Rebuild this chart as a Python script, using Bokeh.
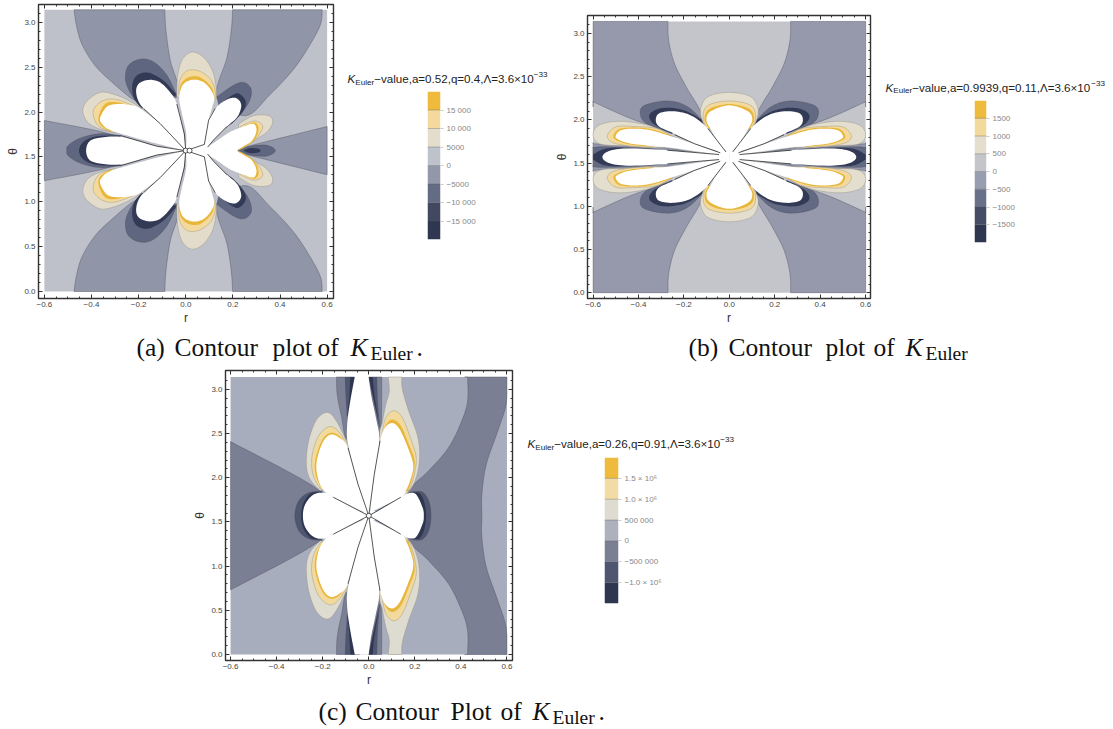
import numpy as np
from bokeh.core.properties import value
from bokeh.embed import file_html
from bokeh.layouts import column, row
from bokeh.models import CustomLabelingPolicy, FixedTicker, LinearAxis, Range1d, Spacer
from bokeh.plotting import figure
from bokeh.resources import INLINE

PI = 3.1416
MID = 1.5708

# ---------- tick values ----------
r_ticks = [-0.6, -0.4, -0.2, 0.0, 0.2, 0.4, 0.6]
r_labels = ["\u22120.6", "\u22120.4", "\u22120.2", "0.0", "0.2", "0.4", "0.6"]
theta_ticks = [0.0, 0.5, 1.0, 1.5, 2.0, 2.5, 3.0]
theta_labels = ["0.0", "0.5", "1.0", "1.5", "2.0", "2.5", "3.0"]

# ---------- colour legends ----------
a_levels = [-20000, -15000, -10000, -5000, 0, 5000, 10000, 15000, 20000]
a_tick_vals = [-15000, -10000, -5000, 0, 5000, 10000, 15000]
a_tick_text = ["\u221215 000", "\u221210 000", "\u22125000", "0", "5000", "10 000", "15 000"]
a_colors = ["#2F3650", "#414860", "#646B85", "#9298A9", "#BEC2CA", "#E4DDCC", "#F3D99C", "#EFBB3C"]

b_levels = [-2000, -1500, -1000, -500, 0, 500, 1000, 1500, 2000]
b_tick_vals = [-1500, -1000, -500, 0, 500, 1000, 1500]
b_tick_text = ["\u22121500", "\u22121000", "\u2212500", "0", "500", "1000", "1500"]
b_colors = ["#2F3650", "#454C66", "#68708A", "#999DB0", "#C3C5CB", "#E4DECE", "#F3D99C", "#EFBB3C"]

c_levels = [-1500000, -1000000, -500000, 0, 500000, 1000000, 1500000, 2000000]
c_tick_vals = [-1000000, -500000, 0, 500000, 1000000, 1500000]
c_tick_text = ["\u22121.0 \u00d7 10\u2076", "\u2212500 000", "0", "500 000", "1.0 \u00d7 10\u2076", "1.5 \u00d7 10\u2076"]
c_colors = ["#2F3650", "#4F5670", "#7A7F94", "#ADB0BD", "#DEDBD0", "#F2DBA4", "#EFBB3C"]

# ---------- panel (a): contour outlines read as (r, theta), upper half ----------
a_mid_topleft = [(-0.089, PI), (-0.084, 2.91), (-0.066, 2.58), (-0.035, 2.22), (-0.151, 2.13), (-0.215, 2.13),
                 (-0.307, 2.32), (-0.385, 2.52), (-0.441, 2.76), (-0.465, 2.98), (-0.474, PI)]
a_mid_topright = [(0.199, PI), (0.193, 2.91), (0.175, 2.61), (0.132, 2.17), (0.253, 1.96), (0.359, 2.20),
                  (0.458, 2.48), (0.529, 2.76), (0.572, 2.98), (0.579, PI)]
a_wedge_left = [(-0.6, 1.907), (-0.305, 1.74), (-0.305, MID)]
a_wedge_right = [(0.6, 1.84), (0.22, 1.59), (0.22, MID)]

a_tan_center = [(-0.038, 2.17), (-0.035, 2.39), (-0.016, 2.58), (0.026, 2.67), (0.076, 2.61), (0.115, 2.45), (0.130, 2.24), (0.125, 2.13)]
a_yel_center = [(-0.030, 2.19), (-0.026, 2.35), (0.005, 2.46), (0.055, 2.46), (0.104, 2.37), (0.125, 2.24), (0.122, 2.15)]
a_gold_center = [(-0.028, 2.17), (-0.023, 2.30), (0.005, 2.38), (0.047, 2.40), (0.083, 2.35), (0.113, 2.26), (0.122, 2.15)]
a_white_center = [(0, 1.57), (0.002, 1.76), (-0.016, 1.98), (-0.028, 2.15), (-0.016, 2.29), (0.012, 2.35), (0.047, 2.36),
                  (0.083, 2.32), (0.111, 2.23), (0.121, 2.15), (0.113, 2.06), (0.097, 1.91), (0.079, 1.64)]

a_slate_ul = [(-0.035, 2.17), (-0.080, 2.41), (-0.137, 2.56), (-0.193, 2.59), (-0.243, 2.52), (-0.256, 2.37), (-0.236, 2.22), (-0.193, 2.06)]
a_dark_ul = [(-0.038, 2.19), (-0.094, 2.35), (-0.158, 2.44), (-0.207, 2.41), (-0.227, 2.30), (-0.219, 2.15), (-0.186, 2.04)]
a_white_ul = [(0, 1.57), (-0.009, 1.76), (-0.038, 2.09), (-0.066, 2.22), (-0.108, 2.33), (-0.151, 2.36), (-0.193, 2.33),
              (-0.210, 2.26), (-0.205, 2.15), (-0.179, 2.04), (-0.108, 1.87)]

a_tan_left = [(-0.186, 2.04), (-0.243, 2.13), (-0.307, 2.20), (-0.363, 2.22), (-0.417, 2.13), (-0.437, 2.02), (-0.417, 1.89), (-0.363, 1.81), (-0.300, 1.78)]
a_yel_left = [(-0.193, 2.04), (-0.293, 2.14), (-0.349, 2.13), (-0.389, 2.04), (-0.389, 1.93), (-0.363, 1.83), (-0.300, 1.77)]
a_gold_left = [(-0.193, 2.04), (-0.293, 2.11), (-0.342, 2.09), (-0.369, 1.96), (-0.363, 1.86), (-0.321, 1.78)]
a_white_left = [(0, 1.57), (-0.094, 1.63), (-0.222, 1.72), (-0.321, 1.80), (-0.356, 1.87), (-0.363, 1.94), (-0.335, 2.06),
                (-0.293, 2.09), (-0.236, 2.08), (-0.193, 2.04), (-0.108, 1.87)]

a_slate_h = [(-0.278, 1.74), (-0.363, 1.76), (-0.448, 1.71), (-0.498, 1.63), (-0.505, MID)]
a_dark_h = [(-0.278, 1.74), (-0.378, 1.73), (-0.434, 1.67), (-0.453, MID)]
a_white_h = [(0, 1.58), (-0.123, 1.62), (-0.264, 1.72), (-0.349, 1.72), (-0.406, 1.68), (-0.423, MID)]

a_slate_ur = [(0.132, 2.17), (0.203, 2.30), (0.246, 2.33), (0.277, 2.26), (0.271, 2.13), (0.232, 1.98), (0.161, 1.83)]
a_dark_ur = [(0.125, 2.04), (0.175, 2.15), (0.220, 2.21), (0.253, 2.13), (0.246, 2.02), (0.203, 1.89), (0.161, 1.81)]
a_white_ur = [(0.079, 1.64), (0.097, 1.91), (0.132, 2.06), (0.175, 2.14), (0.210, 2.16), (0.232, 2.11), (0.234, 2.04),
              (0.217, 1.94), (0.175, 1.84), (0.118, 1.69), (0.093, 1.61)]

a_tan_right = [(0.225, 1.87), (0.288, 1.96), (0.352, 1.96), (0.369, 1.89), (0.345, 1.78), (0.288, 1.68), (0.225, MID)]
a_yel_right = [(0.232, 1.84), (0.288, 1.90), (0.324, 1.86), (0.319, 1.78), (0.288, 1.68), (0.229, MID)]
a_gold_right = [(0.239, 1.83), (0.291, 1.885), (0.309, 1.81), (0.288, 1.68), (0.224, MID)]
a_white_right = [(0.097, MID), (0.093, 1.61), (0.132, 1.68), (0.189, 1.78), (0.246, 1.84), (0.288, 1.87), (0.300, 1.79),
                 (0.281, 1.68), (0.246, 1.62), (0.220, MID)]
a_white_core = [(0, MID), (0.0, 1.585), (0.079, 1.64), (0.093, 1.61), (0.097, MID)]
a_slate_spot = [(0.224, MID), (0.274, 1.62), (0.345, 1.63), (0.380, MID)]
a_dark_spot = [(0.243, MID), (0.274, 1.60), (0.31, 1.59), (0.317, MID)]

a_spokes = [[(0, 1.57), (-0.006, 1.76), (-0.038, 2.09)], [(0, 1.57), (-0.108, 1.87), (-0.179, 2.04)],
            [(0, 1.57), (-0.123, 1.62), (-0.278, 1.74)], [(0, 1.57), (0.079, 1.64), (0.097, 1.91), (0.125, 2.04)],
            [(0.093, 1.61), (0.118, 1.69), (0.175, 1.84)]]
a_center_r = [0.0, 0.016]

# ---------- panel (b): right upper quadrant, mirrored in r and theta ----------
b_mid_corner = [(0.270, PI), (0.267, 2.92), (0.241, 2.65), (0.189, 2.38), (0.123, 2.07), (0.13, 1.85), (0.373, 1.96), (0.6, 2.21), (0.6, 2.21), (0.6, PI)]
b_mid_h = [(0.1, 1.60), (0.30, 1.68), (0.6, 1.725), (0.6, 1.725), (0.6, MID)]
b_slate_h = [(0.2, 1.60), (0.35, 1.67), (0.55, 1.69), (0.6, 1.68), (0.6, 1.68), (0.6, MID)]
b_dark_h = [(0.3, 1.62), (0.46, 1.675), (0.55, 1.665), (0.6, 1.60), (0.6, 1.60), (0.6, MID)]
b_white_h = [(0.02, MID), (0.045, 1.60), (0.273, 1.65), (0.449, 1.67), (0.53, 1.64), (0.559, MID)]

b_tan_d = [(0.25, 1.81), (0.346, 1.93), (0.478, 1.985), (0.574, 1.94), (0.60, 1.82), (0.566, 1.72), (0.449, 1.70), (0.346, 1.68), (0.25, 1.69)]
b_yel_d = [(0.25, 1.80), (0.317, 1.90), (0.42, 1.925), (0.50, 1.92), (0.537, 1.82), (0.515, 1.74), (0.442, 1.70), (0.346, 1.685)]
b_gold_d = [(0.25, 1.815), (0.346, 1.895), (0.42, 1.912), (0.485, 1.895), (0.51, 1.82), (0.50, 1.77), (0.445, 1.72), (0.346, 1.69)]
b_white_d = [(0.053, 1.63), (0.244, 1.80), (0.346, 1.88), (0.420, 1.90), (0.478, 1.88), (0.500, 1.82), (0.493, 1.78),
             (0.442, 1.73), (0.346, 1.70), (0.258, 1.68), (0.045, 1.60)]

b_slate_u = [(0.10, 1.94), (0.182, 2.15), (0.27, 2.22), (0.373, 2.17), (0.392, 2.07), (0.365, 1.96), (0.27, 1.86)]
b_dark_u = [(0.108, 1.98), (0.197, 2.11), (0.292, 2.14), (0.35, 2.07), (0.336, 1.96), (0.255, 1.84)]
b_white_u = [(0.015, 1.63), (0.094, 1.90), (0.167, 2.05), (0.241, 2.10), (0.307, 2.08), (0.324, 2.00), (0.307, 1.92),
             (0.241, 1.84), (0.153, 1.725), (0.05, 1.64)]

b_tan_top = [(-0.10, 1.90), (-0.12, 2.0), (-0.126, 2.13), (-0.094, 2.27), (0, 2.32), (0.094, 2.27), (0.126, 2.13), (0.12, 2.0), (0.10, 1.90)]
b_yel_top = [(-0.10, 1.90), (-0.116, 2.035), (-0.094, 2.17), (0, 2.22), (0.094, 2.17), (0.116, 2.035), (0.10, 1.90)]
b_gold_top = [(-0.09, 1.90), (-0.109, 2.015), (-0.087, 2.13), (0, 2.185), (0.087, 2.13), (0.109, 2.015), (0.09, 1.90)]
b_white_top = [(0, 1.60), (-0.043, 1.725), (-0.079, 1.88), (-0.101, 2.00), (-0.082, 2.10), (0, 2.17), (0.082, 2.10),
               (0.101, 2.00), (0.079, 1.88), (0.043, 1.725)]
b_white_core = [(0, 1.64), (0.05, 1.64), (0.05, MID)]
b_spokes = [[(0.015, 1.63), (0.094, 1.90)], [(0.04, 1.62), (0.153, 1.725), (0.241, 1.83)], [(0.045, 1.60), (0.273, 1.65)]]

# ---------- panel (c): upper half ----------
c_wedge_left = [(-0.6, 2.41), (-0.211, 1.85), (-0.21, MID)]
c_right_band = [(0.17, MID), (0.174, 1.85), (0.26, 2.08), (0.346, 2.34), (0.403, 2.64), (0.429, 2.87), (0.429, PI), (0.429, PI),
                (0.6, PI), (0.6, PI), (0.596, 2.83), (0.56, 2.53), (0.51, 2.15), (0.491, 1.81), (0.491, MID)]
c_strip_l1 = [(-0.14, PI), (-0.137, 2.94), (-0.119, 2.70), (-0.094, 2.45), (-0.061, PI)]
c_strip_l2 = [(-0.104, PI), (-0.10, 2.9), (-0.095, 2.7), (-0.09, 2.5), (-0.04, PI)]
c_strip_l3 = [(-0.08, PI), (-0.085, 2.9), (-0.09, 2.7), (-0.04, PI)]
c_strip_r1 = [(0.056, PI), (0.056, 2.9), (0.053, 2.57), (0.04, 2.5), (0, PI)]
c_strip_r2 = [(0.036, PI), (0.039, 2.87), (0.046, 2.57), (0, PI)]
c_strip_r3 = [(0.017, PI), (0.024, 2.94), (0.039, 2.68), (0, PI)]
c_white_center = [(-0.061, PI), (-0.083, 2.83), (-0.094, 2.60), (-0.09, 2.38), (-0.047, 1.93), (0, 1.59), (0.024, 2.04),
                  (0.046, 2.42), (0.031, 2.68), (0.01, 2.94), (-0.001, PI)]

c_tan_r = [(0.084, PI), (0.089, 2.98), (0.074, 2.83), (0.06, 2.64), (0.049, 2.42), (0.10, 1.75), (0.174, 1.85), (0.21, 2.04),
           (0.221, 2.27), (0.21, 2.49), (0.174, 2.75), (0.146, 3.0), (0.143, PI)]
c_yel_r = [(0.05, 2.40), (0.057, 2.49), (0.074, 2.68), (0.11, 2.76), (0.146, 2.68), (0.181, 2.45), (0.206, 2.23), (0.196, 2.02), (0.174, 1.85)]
c_gold_r = [(0.05, 2.40), (0.053, 2.45), (0.074, 2.60), (0.103, 2.66), (0.139, 2.59), (0.174, 2.38), (0.199, 2.19), (0.189, 2.0), (0.167, 1.83)]
c_white_r = [(0.005, 1.60), (0.024, 2.04), (0.049, 2.42), (0.071, 2.57), (0.103, 2.62), (0.134, 2.55), (0.167, 2.36),
             (0.193, 2.15), (0.181, 1.98), (0.16, 1.85), (0.139, 1.78), (0.024, 1.63)]

c_tan_l = [(-0.09, 2.38), (-0.14, 2.64), (-0.179, 2.74), (-0.226, 2.66), (-0.261, 2.42), (-0.271, 2.15), (-0.254, 1.98), (-0.209, 1.85)]
c_yel_l = [(-0.09, 2.36), (-0.126, 2.51), (-0.169, 2.58), (-0.219, 2.47), (-0.247, 2.23), (-0.24, 2.02), (-0.204, 1.85)]
c_gold_l = [(-0.09, 2.34), (-0.126, 2.47), (-0.166, 2.51), (-0.204, 2.42), (-0.233, 2.19), (-0.229, 2.02), (-0.204, 1.87)]
c_white_l = [(0, 1.59), (-0.047, 1.93), (-0.09, 2.34), (-0.126, 2.45), (-0.166, 2.49), (-0.2, 2.40), (-0.226, 2.19),
             (-0.223, 2.02), (-0.2, 1.87), (-0.154, 1.78), (-0.019, 1.61)]

c_slate_hl = [(-0.204, 1.85), (-0.261, 1.83), (-0.304, 1.74), (-0.321, MID)]
c_dark_hl = [(-0.197, 1.83), (-0.247, 1.83), (-0.283, 1.72), (-0.294, MID)]
c_white_hl = [(-0.019, 1.60), (-0.154, 1.78), (-0.19, 1.83), (-0.24, 1.81), (-0.276, 1.70), (-0.286, MID)]
c_slate_hr = [(0.181, 1.84), (0.231, 1.84), (0.26, 1.74), (0.27, MID)]
c_dark_hr = [(0.174, 1.825), (0.217, 1.83), (0.239, 1.74), (0.249, MID)]
c_white_hr = [(0.024, 1.60), (0.139, 1.78), (0.174, 1.825), (0.206, 1.81), (0.234, 1.66), (0.239, MID)]
c_white_core = [(-0.025, MID), (-0.02, 1.62), (0.03, 1.62), (0.03, MID)]
c_spokes = [[(0, 1.57), (-0.154, 1.78)], [(0, 1.57), (0.139, 1.78)], [(0, 1.57), (-0.047, 1.93), (-0.09, 2.34)], [(0, 1.57), (0.024, 2.04), (0.049, 2.42)]]

# ---------- text ----------
a_title = "\u2212value,a=0.52,q=0.4,\u039b=3.6\u00d710"
b_title = "\u2212value,a=0.9939,q=0.11,\u039b=3.6\u00d710"
c_title = "\u2212value,a=0.26,q=0.91,\u039b=3.6\u00d710"
SANS = "Liberation Sans"
SERIF = "Liberation Serif"
W = {",": .278, ".": .278, "=": .584, "\u2212": .584, "\u00d7": .584, "\u039b": .667, "a": .556, "e": .556, "l": .222,
     "q": .556, "u": .556, "v": .5}


def arial_width(text):
    return sum(W.get(ch, .556) for ch in text)


def smooth(pts, n=8):
    """Catmull-Rom curve through the read outline points, kept inside the plotted rectangle."""
    p = np.array(pts, dtype=float)
    q = np.vstack([p[0], p, p[-1]])
    out = []
    for i in range(1, len(q) - 2):
        for t in np.linspace(0, 1, n, endpoint=False):
            out.append(0.5 * ((2 * q[i]) + (q[i + 1] - q[i - 1]) * t
                              + (2 * q[i - 1] - 5 * q[i] + 4 * q[i + 1] - q[i + 2]) * t ** 2
                              + (3 * q[i] - q[i - 1] - 3 * q[i + 1] + q[i + 2]) * t ** 3))
    out.append(p[-1])
    out = np.array(out)
    out[:, 0] = np.clip(out[:, 0], -0.6, 0.6)
    out[:, 1] = np.clip(out[:, 1], 0, PI)
    return out


def patch(p, xy, color, edge):
    kw = dict(line_color=edge, line_width=0.6, line_alpha=0.65) if edge else dict(line_color=None)
    p.patch(xy[:, 0], xy[:, 1], fill_color=color, **kw)


def lobe(p, pts, color, edge=None, flip=False):
    """Draw an outline and its mirror image about theta = pi/2 (and r = 0 if flip)."""
    xy = smooth(pts)
    variants = [(1, 1), (1, -1)] + ([(-1, 1), (-1, -1)] if flip else [])
    for sr, st in variants:
        m = xy.copy()
        m[:, 0] *= sr
        if st < 0:
            m[:, 1] = PI - m[:, 1]
        patch(p, m, color, edge)


def joined(p, pts, color, edge=None, flip=False):
    """Draw one closed shape: the outline followed by its mirror image about theta = pi/2."""
    up = np.array(pts, dtype=float)
    down = up[::-1].copy()
    down[:, 1] = PI - down[:, 1]
    xy = smooth(np.vstack([up, down[1:]]))
    patch(p, xy, color, edge)
    if flip:
        m = xy.copy()
        m[:, 0] *= -1
        patch(p, m, color, edge)


def spokes(p, lines, flip=False):
    for ln in lines:
        a = np.array(ln, dtype=float)
        for sr, st in ([(1, 1), (1, -1)] + ([(-1, 1), (-1, -1)] if flip else [])):
            p.line(a[:, 0] * sr, a[:, 1] if st > 0 else PI - a[:, 1], line_color="#111111", line_width=0.7)


def panel(width, height, left, right, top, bottom, x0, x1, y0, y1, light):
    p = figure(width=width, height=height, min_border_left=left, min_border_right=right, min_border_top=top,
               min_border_bottom=bottom, toolbar_location=None, output_backend="svg", frame_align=False,
               x_range=Range1d(x0, x1), y_range=Range1d(y0, y1), x_axis_label="r", y_axis_label="\u03b8")
    p.grid.visible = False
    p.outline_line_color = "#333333"
    p.outline_line_width = 1.4
    xt = FixedTicker(ticks=r_ticks, minor_ticks=[round(-0.6 + 0.05 * i, 2) for i in range(25)])
    yt = FixedTicker(ticks=theta_ticks, minor_ticks=[round(0.1 * i, 1) for i in range(32)])
    p.xaxis[0].ticker = xt
    p.yaxis[0].ticker = yt
    p.xaxis[0].major_label_overrides = dict(zip(r_ticks, r_labels))
    p.yaxis[0].major_label_overrides = dict(zip(theta_ticks, theta_labels))
    p.add_layout(LinearAxis(ticker=xt), "above")
    p.add_layout(LinearAxis(ticker=yt), "right")
    for ax in p.axis:
        ax.axis_line_color = None
        ax.major_tick_in, ax.major_tick_out = 4, 0
        ax.minor_tick_in, ax.minor_tick_out = 2, 0
        ax.major_tick_line_color = "#333333"
        ax.minor_tick_line_color = "#333333"
        ax.major_label_text_font = SANS
        ax.major_label_text_font_size = "8px"
        ax.major_label_text_color = "#444444"
        ax.major_label_standoff = 3
        ax.axis_label_text_font = SANS
        ax.axis_label_text_font_style = "normal"
        ax.axis_label_text_font_size = "12px"
        ax.axis_label_text_color = "#333333"
        ax.axis_label_standoff = 1
    for ax in p.above + p.right:
        ax.major_label_policy = CustomLabelingPolicy(code="for (const i of indices) indices.unset(i); return indices;")
        ax.major_label_standoff = 0
        ax.major_label_text_font_size = "1px"
    p.quad(left=[-0.6], right=[0.6], bottom=[0], top=[PI], fill_color=light, line_color=None)
    return p


def text_strip(width, height, words, font, color):
    """A blank figure whose data units are pixels, holding text glyphs; y is the text's baseline."""
    p = figure(width=width, height=height, min_border=0, toolbar_location=None, output_backend="svg", frame_align=False,
               x_range=Range1d(0, width), y_range=Range1d(0, height), x_axis_location=None, y_axis_location=None)
    p.grid.visible = False
    p.outline_line_color = None
    for text, x, y, size, style in words:
        p.text(x=[x], y=[y + 0.335 * size], text=[text], text_font=value(font), text_font_size=f"{size}px", text_font_style=style,
               text_color=color, text_baseline="middle", text_align="left")
    return p


def legend(width, strip_h, height, left, top, fw, fh, levels, colors, tick_vals, tick_text, title, tx, ty):
    s = 11.6
    x = tx
    words = []
    for text, size, style, dy in [("K", s, "italic", 0), ("Euler", 0.7 * s, "normal", -2.5), (title, s, "normal", 0), ("\u221233", 0.7 * s, "normal", 5)]:
        words.append((text, x, ty + dy, size, style))
        x += 0.667 * size if text == "K" else (2.334 * size if text == "Euler" else arial_width(text) * size)
    strip = text_strip(width, strip_h, words, SANS, "#222222")
    h = height - strip_h
    p = figure(width=width, height=h, min_border_left=left, min_border_right=width - left - fw,
               min_border_top=top, min_border_bottom=h - top - fh, toolbar_location=None, output_backend="svg",
               frame_align=False,
               x_range=Range1d(0, 1), y_range=Range1d(levels[0], levels[-1]), x_axis_location=None, y_axis_location="right")
    p.grid.visible = False
    p.outline_line_color = None
    p.quad(left=0, right=1, bottom=levels[:-1], top=levels[1:], fill_color=colors, line_color=None)
    p.segment(x0=0, x1=1, y0=levels[1:-1], y1=levels[1:-1], line_color="#555555", line_alpha=0.45, line_width=0.8)
    ax = p.yaxis[0]
    ax.ticker = FixedTicker(ticks=tick_vals)
    ax.major_label_overrides = dict(zip(tick_vals, tick_text))
    ax.axis_line_color = None
    ax.major_tick_in, ax.major_tick_out = 0, 3
    ax.major_tick_line_color = "#cccccc"
    ax.minor_tick_line_color = None
    ax.major_label_text_font = SANS
    ax.major_label_text_font_size = "8px"
    ax.major_label_text_color = "#888888"
    ax.major_label_standoff = 3
    return column(strip, p)


# ---------- panel (a) ----------
A = dict(light="#BEC1C9", mid="#9095A7", slate="#5F6680", dark="#333A55", tan="#E3DCCB", yel="#F3D99C", gold="#E8B63A")
pa = panel(340, 330, 38, 7, 4, 32, -0.625, 0.627, -0.078, 3.2, A["light"])
E = "#4a4d5a"
T = "#8f8a78"
lobe(pa, a_mid_topleft, A["mid"], E)
lobe(pa, a_mid_topright, A["mid"], E)
joined(pa, a_wedge_left, A["mid"], E)
joined(pa, a_wedge_right, A["mid"], E)
joined(pa, a_slate_h, A["slate"], E)
joined(pa, a_dark_h, A["dark"])
for pts, col, edge in [(a_slate_ul, A["slate"], E), (a_dark_ul, A["dark"], None), (a_slate_ur, A["slate"], E), (a_dark_ur, A["dark"], None),
                       (a_tan_center, A["tan"], T), (a_yel_center, A["yel"], T), (a_gold_center, A["gold"], None),
                       (a_tan_left, A["tan"], T), (a_yel_left, A["yel"], T), (a_gold_left, A["gold"], None),
                       (a_tan_right, A["tan"], T), (a_yel_right, A["yel"], T), (a_gold_right, A["gold"], None)]:
    lobe(pa, pts, col, edge)
joined(pa, a_slate_spot, A["slate"], E)
joined(pa, a_dark_spot, A["dark"])
for pts in [a_white_center, a_white_ul, a_white_left, a_white_ur]:
    lobe(pa, pts, "#ffffff")
joined(pa, a_white_h, "#ffffff")
joined(pa, a_white_right, "#ffffff")
joined(pa, a_white_core, "#ffffff")
spokes(pa, a_spokes)
pa.scatter(a_center_r, [MID, MID], size=5, fill_color="#ffffff", line_color="#111111", line_width=0.7)

# ---------- panel (b) ----------
B = dict(light="#C3C5CB", mid="#9599AB", slate="#636A84", dark="#333A55", tan="#E4DECE", yel="#F3D99C", gold="#E8B63A")
pb = panel(328, 330, 35, 10, 15, 32, -0.6246, 0.6216, -0.067, 3.21, B["light"])
lobe(pb, b_mid_corner, B["mid"], E, flip=True)
joined(pb, b_mid_h, B["mid"], E, flip=True)
joined(pb, b_slate_h, B["slate"], E, flip=True)
joined(pb, b_dark_h, B["dark"], flip=True)
for pts, col, edge in [(b_slate_u, B["slate"], E), (b_dark_u, B["dark"], None), (b_tan_d, B["tan"], T), (b_yel_d, B["yel"], T), (b_gold_d, B["gold"], None)]:
    lobe(pb, pts, col, edge, flip=True)
for pts, col, edge in [(b_tan_top, B["tan"], T), (b_yel_top, B["yel"], T), (b_gold_top, B["gold"], None), (b_white_top, "#ffffff", None)]:
    lobe(pb, pts, col, edge)
for pts in [b_white_u, b_white_d]:
    lobe(pb, pts, "#ffffff", flip=True)
joined(pb, b_white_h, "#ffffff", flip=True)
joined(pb, b_white_core, "#ffffff", flip=True)
spokes(pb, b_spokes, flip=True)

# ---------- panel (c) ----------
C = dict(light="#A8ADBD", mid="#7A7F94", slate="#4F5670", dark="#2F3650", tan="#DEDBD0", yel="#F2D99C", gold="#E8B63A")
pc = panel(330, 326, 31, 8, 3, 32, -0.622, 0.624, -0.068, 3.215, C["light"])
joined(pc, c_wedge_left, C["mid"], E)
joined(pc, c_right_band, C["mid"], E)
for pts, col, edge in [(c_strip_l1, C["mid"], E), (c_strip_l2, C["slate"], None), (c_strip_l3, C["dark"], None),
                       (c_strip_r1, C["mid"], E), (c_strip_r2, C["slate"], None), (c_strip_r3, C["dark"], None),
                       (c_tan_r, C["tan"], T), (c_yel_r, C["yel"], T), (c_gold_r, C["gold"], None),
                       (c_tan_l, C["tan"], T), (c_yel_l, C["yel"], T), (c_gold_l, C["gold"], None)]:
    lobe(pc, pts, col, edge)
joined(pc, c_slate_hl, C["slate"], E)
joined(pc, c_dark_hl, C["dark"])
joined(pc, c_slate_hr, C["slate"], E)
joined(pc, c_dark_hr, C["dark"])
for pts in [c_white_center, c_white_r, c_white_l]:
    lobe(pc, pts, "#ffffff")
joined(pc, c_white_hl, "#ffffff")
joined(pc, c_white_hr, "#ffffff")
joined(pc, c_white_core, "#ffffff")
spokes(pc, c_spokes)
pc.scatter([0.0], [MID], size=5, fill_color="#ffffff", line_color="#111111", line_width=0.7)

# ---------- legends ----------
la = legend(212, 88, 330, 87, 3, 13, 148, a_levels, a_colors, a_tick_vals, a_tick_text, a_title, 7, 6)
lb = legend(233, 96, 330, 94, 4, 12, 142, b_levels, b_colors, b_tick_vals, b_tick_text, b_title, 5, 5.3)
lc = legend(225, 88, 326, 84, 3, 14, 146, c_levels, c_colors, c_tick_vals, c_tick_text, c_title, 7, 7)

# ---------- captions ----------
S = 25.5
SUB = 19.5
cap1 = text_strip(1113, 36, [("(a)", 136, 10, S, "normal"), ("Contour", 174, 10, S, "normal"), ("plot", 272, 10, S, "normal"),
                             ("of", 317, 10, S, "normal"), ("K", 350, 10, S, "italic"), ("Euler", 370, 6, SUB, "normal"), (".", 416, 10, S, "normal"),
                             ("(b)", 688, 10, S, "normal"), ("Contour", 728, 10, S, "normal"), ("plot", 825, 10, S, "normal"),
                             ("of", 873, 10, S, "normal"), ("K", 905, 10, S, "italic"), ("Euler", 925, 6, SUB, "normal")], SERIF, "#111111")
cap2 = text_strip(1113, 35, [("(c)", 318, 7, S, "normal"), ("Contour", 355, 7, S, "normal"), ("Plot", 450, 7, S, "normal"),
                             ("of", 500, 7, S, "normal"), ("K", 532, 7, S, "italic"), ("Euler", 552, 3, SUB, "normal"), (".", 598, 7, S, "normal")], SERIF, "#111111")

root = column(row(pa, la, pb, lb), cap1, row(Spacer(width=190, height=326), pc, lc), cap2)
open("out.html", "w").write(file_html(root, INLINE))
